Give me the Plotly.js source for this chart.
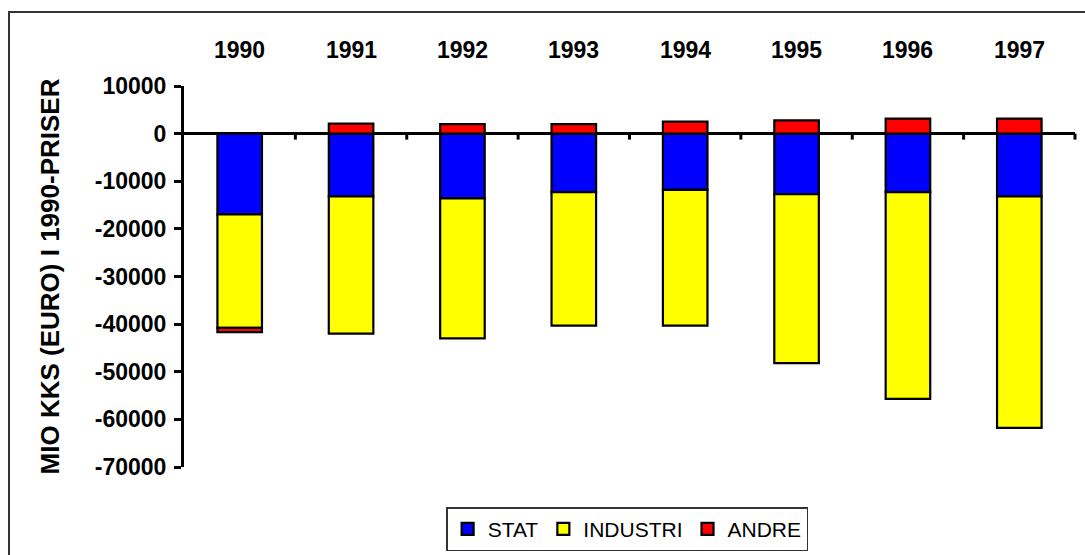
<!DOCTYPE html>
<html>
<head>
<meta charset="utf-8">
<script src="https://cdn.plot.ly/plotly-3.0.1.min.js"></script>
<style>
  html, body { margin: 0; padding: 0; background: #fff; }
  #wrap { position: relative; width: 1085px; height: 555px; overflow: hidden; }
  #chart { width: 1085px; height: 555px; }
  #frame { position: absolute; left: 8px; top: 11px; width: 1200px; height: 700px;
           border-left: 2px solid #333; border-top: 2px solid #333; pointer-events: none; }
</style>
</head>
<body>
<div id="wrap">
  <div id="chart"></div>
  <div id="frame"></div>
</div>
<script>
const years = ['1990', '1991', '1992', '1993', '1994', '1995', '1996', '1997'];
const stat = [-16950, -13200, -13600, -12300, -11800, -12700, -12300, -13200];
const industri = [-23850, -28800, -29400, -28000, -28500, -35500, -43400, -48600];
const andre = [-900, 2100, 2000, 2000, 2500, 2800, 3150, 3150];
const yTicks = [10000, 0, -10000, -20000, -30000, -40000, -50000, -60000, -70000];

const FONT = 'Liberation Sans, Arial, sans-serif';
const outline = { color: '#000', width: 2.2 };

const traces = [
  { type: 'bar', name: 'STAT', x: years, y: stat, marker: { color: '#0000FF', line: outline } },
  { type: 'bar', name: 'INDUSTRI', x: years, y: industri, marker: { color: '#FFFF00', line: outline } },
  { type: 'bar', name: 'ANDRE', x: years, y: andre, marker: { color: '#FF0000', line: outline } }
];

const yMin = -70000, yMax = 10000;
const zeroPos = (0 - yMin) / (yMax - yMin);
const plotHeightPx = 555 - 86 - 88;

// year labels above the plot, one per category
const yearLabels = years.map((yr, i) => ({
  x: i, xref: 'x', y: 1, yref: 'paper',
  yanchor: 'middle', xanchor: 'center', yshift: 36,
  text: yr, showarrow: false,
  font: { family: FONT, size: 23, color: '#000', weight: 'bold' }
}));

// small tick marks on the zero line at the category boundaries
const zeroTicks = years.map((_, i) => ({
  type: 'line', layer: 'above',
  xref: 'paper', x0: (i + 1) / years.length, x1: (i + 1) / years.length,
  yref: 'paper', y0: zeroPos, y1: zeroPos - 6 / plotHeightPx,
  line: { color: '#000', width: 3 }
}));

const layout = {
  width: 1085, height: 555,
  margin: { l: 184, r: 10, t: 86, b: 88 },
  paper_bgcolor: '#fff', plot_bgcolor: '#fff',
  barmode: 'relative',
  bargap: 0.6,
  showlegend: true,
  font: { family: FONT, color: '#000' },
  xaxis: {
    type: 'category',
    categoryarray: years, categoryorder: 'array',
    range: [-0.5, years.length - 0.5],
    ticks: '', showticklabels: false, showline: false, showgrid: false, zeroline: false
  },
  yaxis: {
    range: [yMin, yMax],
    tickmode: 'array', tickvals: yTicks, ticktext: yTicks.map(String),
    showline: true, linewidth: 3, linecolor: '#000',
    ticks: 'outside', ticklen: 7, tickwidth: 3, tickcolor: '#000',
    ticklabelstandoff: 3,
    showgrid: false,
    zeroline: true, zerolinecolor: '#000', zerolinewidth: 3.5,
    layer: 'above traces',
    tickfont: { family: FONT, size: 23, color: '#000', weight: 'bold' },
    title: {
      text: 'MIO KKS (EURO) I 1990-PRISER',
      standoff: 28,
      font: { family: FONT, size: 26, color: '#000', weight: 'bold' }
    }
  },
  annotations: yearLabels,
  shapes: zeroTicks,
  legend: {
    orientation: 'h',
    xref: 'container', yref: 'container',
    x: 0.578, xanchor: 'center',
    y: 0.086, yanchor: 'top',
    bgcolor: '#fff', bordercolor: '#333', borderwidth: 1.5,
    font: { family: FONT, size: 21, color: '#000' },
    traceorder: 'normal',
    itemwidth: 30
  }
};

Plotly.newPlot('chart', traces, layout, { displayModeBar: false, staticPlot: true });
</script>
</body>
</html>
